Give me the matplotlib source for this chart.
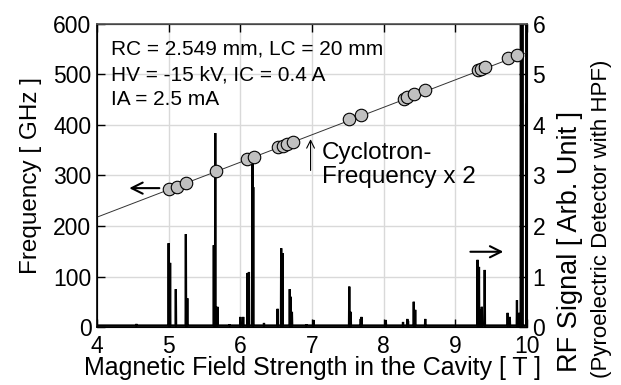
import matplotlib
matplotlib.use("Agg")
import matplotlib.pyplot as plt

plt.rcParams['font.family'] = ['Liberation Sans', 'DejaVu Sans']

# measured frequencies (GHz) vs magnetic field (T)
meas_b = [5.00, 5.11, 5.24, 5.66, 6.10, 6.19, 6.52, 6.59, 6.65, 6.73,
          7.51, 7.69, 8.28, 8.33, 8.43, 8.57, 9.32, 9.36, 9.42, 9.74, 9.86]
meas_f = [273, 277, 285, 309, 333, 337, 356, 358, 362, 366,
          412, 420, 451, 455, 461, 469, 509, 511, 515, 533, 539]

# cyclotron frequency x 2 line
cyc_b = [4.0, 10.0]
cyc_f = [217.5, 543.8]

# RF signal spectrum: peak positions (T) and heights (arb. unit)
peak_b = [4.55, 5.00, 5.02, 5.10, 5.24, 5.26, 5.63, 5.65, 5.68, 5.85, 6.00, 6.04,
          6.10, 6.12, 6.17, 6.18, 6.33, 6.52, 6.57, 6.59, 6.69, 6.70, 6.72,
          6.92, 7.02, 7.52, 7.54, 7.68, 7.69, 8.03, 8.27, 8.33, 8.34, 8.42,
          8.44, 8.58, 9.31, 9.33, 9.35, 9.37, 9.41, 9.73, 9.76, 9.86, 9.89,
          9.915, 9.935, 9.995]
peak_h = [0.06, 1.66, 1.27, 0.75, 1.84, 0.57, 1.62, 3.84, 0.40, 0.05, 0.20, 0.20,
          1.07, 1.09, 3.45, 2.77, 0.08, 0.36, 1.56, 1.46, 0.75, 0.60, 0.30,
          0.05, 0.14, 0.80, 0.30, 0.16, 0.20, 0.14, 0.10, 0.16, 0.12, 0.50,
          0.34, 0.16, 1.33, 1.19, 0.34, 0.40, 1.13, 0.28, 0.20, 0.53, 0.28,
          8.0, 8.0, 8.0]
base_level = 0.03
end_b, end_s = 10.0, 4.4

spec_x = [4.0]
spec_y = [base_level]
for b, h in zip(peak_b, peak_h):
    spec_x += [b - 0.004, b, b + 0.004]
    spec_y += [base_level, h, base_level]
spec_x.append(end_b)
spec_y.append(end_s)

fig = plt.figure(figsize=(6.21, 3.85), dpi=100)
ax1 = fig.add_axes([97/621, 1 - 327/385, 430/621, 303/385])
ax2 = ax1.twinx()
ax1.set_zorder(2)
ax2.set_zorder(1)
ax1.patch.set_visible(False)
ax2.patch.set_visible(True)
ax2.patch.set_facecolor('white')

# grid (drawn on lower axes so spectrum sits over it)
ax2.xaxis.set_visible(True)
ax2.set_xticks([4 + 0.2 * i for i in range(31)])
ax2.tick_params(axis='x', which='both', bottom=False, top=False,
                labelbottom=False, labeltop=False)
ax2.grid(True, which='major', color='#d9d9d9', lw=1)

ax2.plot(spec_x, spec_y, color='black', lw=1.6, solid_joinstyle='miter')
ax2.set_ylim(0, 6)
ax2.set_yticks(range(0, 7))

ax1.plot(cyc_b, cyc_f, color='#333333', lw=0.7)
ax1.plot(meas_b, meas_f, 'o', ms=9, mfc='#c0c0c0', mec='black', mew=0.8)
ax1.set_xlim(4, 10)
ax1.set_ylim(0, 600)
ax1.set_xticks(range(4, 11))
ax1.set_yticks(range(0, 601, 100))

ax1.tick_params(axis='x', direction='in', top=True, length=6, width=1,
                labelsize=16.5, pad=5.5)
ax1.tick_params(axis='y', direction='in', right=False, length=6, width=1,
                labelsize=16.5, pad=4)
ax2.tick_params(axis='y', direction='in', length=6, width=1,
                labelsize=16.5, pad=4)
for sp in ax1.spines.values():
    sp.set_linewidth(1.2)
ax1.spines['top'].set_color('#555555')

ax1.set_xlabel('Magnetic Field Strength in the Cavity [ T ]', fontsize=18,
               labelpad=-1)
ax1.set_ylabel('Frequency [ GHz ]', fontsize=17.5, labelpad=8)

fig.text(570/621, 1 - 372/385, 'RF Signal [ Arb. Unit ]', rotation=90,
         ha='center', va='bottom', fontsize=19.5)
fig.text(602/621, 1 - 378/385, '(Pyroelectric Detector with HPF)',
         rotation=90, ha='center', va='bottom', fontsize=16)

# parameters
tx = 0.033
ax1.text(tx, 0.898, 'RC = 2.549 mm, LC = 20 mm', transform=ax1.transAxes,
         fontsize=15, va='baseline')
ax1.text(tx, 0.815, 'HV = -15 kV, IC = 0.4 A', transform=ax1.transAxes,
         fontsize=15, va='baseline')
ax1.text(tx, 0.733, 'IA = 2.5 mA', transform=ax1.transAxes,
         fontsize=15, va='baseline')

ax1.text(7.14, 0.556, 'Cyclotron-', transform=ax1.get_xaxis_transform(),
         fontsize=17.5, va='baseline')
ax1.text(7.14, 0.474, 'Frequency x 2', transform=ax1.get_xaxis_transform(),
         fontsize=17.5, va='baseline')

# arrows
ax1.annotate('', xy=(4.45, 275), xytext=(4.87, 275),
             arrowprops=dict(arrowstyle='->', lw=1.5, mutation_scale=20,
                             shrinkA=0, shrinkB=0))
ax2.annotate('', xy=(9.67, 1.49), xytext=(9.21, 1.49),
             arrowprops=dict(arrowstyle='->', lw=1.5, mutation_scale=20,
                             shrinkA=0, shrinkB=0))
ax1.annotate('', xy=(6.98, 372), xytext=(6.98, 310),
             arrowprops=dict(arrowstyle='->', lw=0.8, mutation_scale=14,
                             shrinkA=0, shrinkB=0))

fig.savefig('out.png', dpi=100)
